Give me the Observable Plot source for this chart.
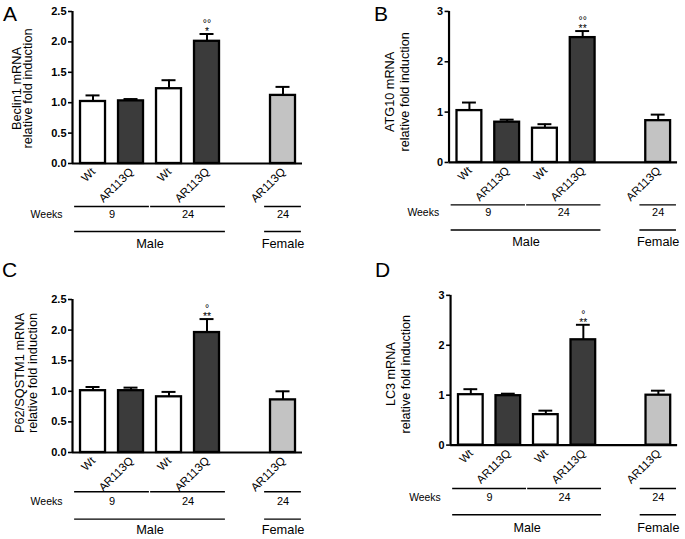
<!DOCTYPE html>
<html>
<head>
<meta charset="utf-8">
<script src="https://cdn.jsdelivr.net/npm/d3@7"></script>
<script src="https://cdn.jsdelivr.net/npm/@observablehq/plot@0.6"></script>
<style>
  html, body { margin: 0; padding: 0; background: #fff; }
  #wrap { position: relative; width: 685px; height: 539px; overflow: hidden; background: #fff;
          font-family: "Liberation Sans", Arial, Helvetica, sans-serif; }
  .panel { position: absolute; }
  .letter { position: absolute; font-size: 21px; line-height: 21px; color: #000; }
  [aria-label^="y-axis"] text { font-weight: 700; }
</style>
</head>
<body>
<div id="wrap"></div>
<script>
// ---- Data ----
const genotype = ["Wt", "AR113Q", "Wt", "AR113Q", "AR113Q"];
const weeks    = ["9", "9", "24", "24", "24"];
const sex      = ["Male", "Male", "Male", "Male", "Female"];

const beclin1    = [1.02, 1.03, 1.23, 2.01, 1.12];
const beclin1Err = [0.10, 0.03, 0.14, 0.12, 0.14];
const atg10      = [1.03, 0.80, 0.68, 2.48, 0.83];
const atg10Err   = [0.16, 0.05, 0.08, 0.13, 0.12];
const p62        = [1.01, 1.01, 0.91, 1.96, 0.86];
const p62Err     = [0.06, 0.05, 0.08, 0.22, 0.14];
const lc3        = [1.01, 0.99, 0.61, 2.11, 1.00];
const lc3Err     = [0.11, 0.04, 0.08, 0.30, 0.09];

const degA = ["", "", "", "°°", ""], starA = ["", "", "", "*", ""];
const degB = ["", "", "", "°°", ""], starB = ["", "", "", "**", ""];
const degC = ["", "", "", "°", ""],  starC = ["", "", "", "**", ""];
const degD = ["", "", "", "°", ""],  starD = ["", "", "", "**", ""];

const panelLetters = ["A", "B", "C", "D"];
const yTitles = [
  "Beclin1 mRNA\nrelative fold induction",
  "ATG10 mRNA\nrelative fold induction",
  "P62/SQSTM1 mRNA\nrelative fold induction",
  "LC3 mRNA\nrelative fold induction"
];
const yMax = [2.5, 3, 2.5, 3];
const yTickCount = [5, 3, 5, 3];
const yTickFormat = [".1f", "d", ".1f", "d"];
const rowLabel = "Weeks";

// ---- Derived rows: slot index with a gap between the sexes ----
function buildRows(values, errs, deg, star) {
  let slot = -1;
  return genotype.map((g, i) => {
    slot += (i > 0 && sex[i] !== sex[i - 1]) ? 2 : 1;
    return {genotype: g, weeks: weeks[i], sex: sex[i], value: values[i], err: errs[i],
            top: values[i] + errs[i], sig: deg[i] ? deg[i] + "\n" + star[i] : star[i], slot};
  });
}
const keyWeeks = r => r.sex + "|" + r.weeks;
const keySex = r => r.sex;
function runs(rows, key, labelOf) {
  const out = [];
  rows.forEach(r => {
    const k = key(r);
    const last = out[out.length - 1];
    if (last && last.key === k) last.end = r.slot + 1;
    else out.push({key: k, label: labelOf(r), start: r.slot, end: r.slot + 1});
  });
  return out;
}

const fillFor = r => r.sex === "Female" ? "#c3c3c3" : (r.genotype === "Wt" ? "#ffffff" : "#3b3b3b");

// ---- Layout per panel ----
const layouts = [
  {left: 0,   top: 0,   mb: 107,   line1: 43,   line2: 68,   wk: 54.5, sx: 84,   tdx: -49.5, tdy: 1,  lh: 0.88},
  {left: 377, top: 0,   mb: 107,   line1: 42.7, line2: 68,   wk: 54,   sx: 84,   tdx: -53,   tdy: 5,  lh: 1.25},
  {left: 0,   top: 288, mb: 106,   line1: 39.3, line2: 66.6, wk: 52,   sx: 81.5, tdx: -46,   tdy: -3, lh: 0.96},
  {left: 379, top: 284, mb: 107.3, line1: 44,   line2: 70.6, wk: 56.6, sx: 88,   tdx: -53.5, tdy: 4,  lh: 1.15}
];
const datasets = [
  [beclin1, beclin1Err, degA, starA],
  [atg10, atg10Err, degB, starB],
  [p62, p62Err, degC, starC],
  [lc3, lc3Err, degD, starD]
];

const W = 310, H = 270, ML = 72, MR = 8, MT = 11;
const nSlots = 6;
const xDomain = [-0.04, nSlots + 0.013];
const font = "\"Liberation Sans\", Arial, Helvetica, sans-serif";
const wrap = document.getElementById("wrap");

datasets.forEach(([vals, errs, deg, star], p) => {
  const L = layouts[p];
  const rows = buildRows(vals, errs, deg, star);
  const weekRuns = runs(rows, keyWeeks, r => r.weeks);
  const sexRuns = runs(rows, keySex, r => r.sex);

  const chart = Plot.plot({
    width: W, height: H,
    marginLeft: ML, marginRight: MR, marginTop: MT, marginBottom: L.mb,
    style: {fontFamily: font, fontSize: "11px", color: "#000", background: "transparent", overflow: "visible"},
    x: {type: "linear", domain: xDomain, axis: null},
    y: {domain: [0, yMax[p]], axis: null},
    marks: [
      Plot.axisY({ticks: yTickCount[p], tickFormat: d3.format(yTickFormat[p]), tickSize: 4, tickPadding: 2,
                  strokeWidth: 1.6, fontSize: 11, fontWeight: "bold", label: null}),
      Plot.ruleX([xDomain[0]], {y1: 0, y2: yMax[p], strokeWidth: 2.2, stroke: "#000"}),
      // bars
      Plot.rectY(rows, {x1: "slot", x2: d => d.slot + 1, y1: 0, y2: "value", fill: fillFor,
                        stroke: "#000", strokeWidth: 2.3, insetLeft: 6.5, insetRight: 6.5}),
      // error bars (upper only)
      Plot.ruleX(rows, {x: d => d.slot + 0.5, y1: "value", y2: "top", stroke: "#000", strokeWidth: 2}),
      Plot.ruleY(rows, {y: "top", x1: d => d.slot + 0.5, x2: d => d.slot + 0.5, insetLeft: -7, insetRight: -7,
                        stroke: "#000", strokeWidth: 2}),
      // significance marks (degree line above star line)
      Plot.text(rows, {x: d => d.slot + 0.5, y: "top", text: "sig", lineAnchor: "bottom", lineHeight: 0.75,
                       dy: 1, fontSize: 10.5, fill: "#000"}),
      // x axis line
      Plot.ruleY([0], {stroke: "#000", strokeWidth: 2.2}),
      // rotated genotype labels
      Plot.text(rows, {x: d => d.slot + 0.5, frameAnchor: "bottom", text: "genotype", rotate: -45,
                       textAnchor: "end", dx: 3, dy: 9, fontSize: 11.5}),
      // group lines
      Plot.ruleY(weekRuns, {x1: "start", x2: "end", y: () => 0, dy: L.line1, insetLeft: 0.6, insetRight: 0.6,
                            stroke: "#000", strokeWidth: 1.4}),
      Plot.ruleY(sexRuns, {x1: "start", x2: "end", y: () => 0, dy: L.line2, insetLeft: 0.6, insetRight: 0.6,
                           stroke: "#000", strokeWidth: 1.4}),
      Plot.text(weekRuns, {x: d => (d.start + d.end) / 2, frameAnchor: "bottom", text: "label", dy: L.wk, fontSize: 11}),
      Plot.text(sexRuns, {x: d => (d.start + d.end) / 2, frameAnchor: "bottom", text: "label", dy: L.sx, fontSize: 12.8}),
      Plot.text([rowLabel], {frameAnchor: "bottom-left", text: d => d, textAnchor: "end", dx: -10, dy: L.wk, fontSize: 10.5}),
      // y title
      Plot.text([yTitles[p]], {frameAnchor: "left", text: d => d, rotate: -90, textAnchor: "middle",
                               dx: L.tdx, dy: L.tdy, fontSize: 12.8, lineHeight: L.lh})
    ]
  });
  const div = document.createElement("div");
  div.className = "panel";
  div.style.left = L.left + "px";
  div.style.top = L.top + "px";
  div.appendChild(chart);
  wrap.appendChild(div);
});

// panel letters
const letterPos = [[3, 3], [374, 3], [2, 259], [375, 259]];
panelLetters.forEach((t, i) => {
  const d = document.createElement("div");
  d.className = "letter";
  d.textContent = t;
  d.style.left = letterPos[i][0] + "px";
  d.style.top = letterPos[i][1] + "px";
  wrap.appendChild(d);
});
</script>
</body>
</html>
